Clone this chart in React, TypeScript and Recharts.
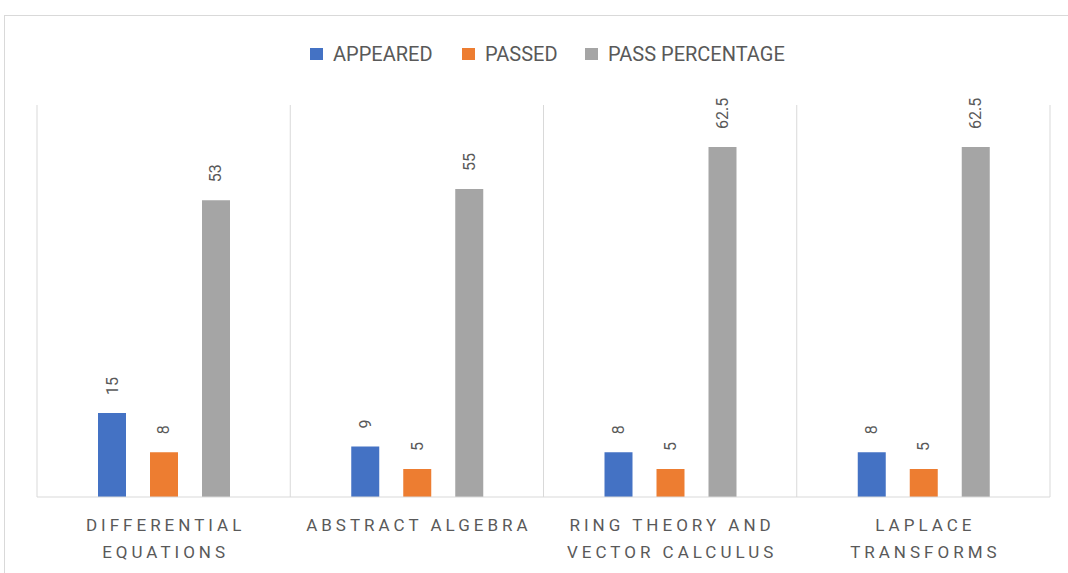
import { BarChart, Bar, XAxis, YAxis, CartesianGrid, LabelList } from 'recharts';

const subjects = [
  ['DIFFERENTIAL', 'EQUATIONS'],
  ['ABSTRACT ALGEBRA'],
  ['RING THEORY AND', 'VECTOR CALCULUS'],
  ['LAPLACE', 'TRANSFORMS'],
];
const appeared = [15, 9, 8, 8];
const passed = [8, 5, 5, 5];
const passPercentage = [53, 55, 62.5, 62.5];

const series = [
  { key: 'appeared', name: 'APPEARED', color: '#4472C4' },
  { key: 'passed', name: 'PASSED', color: '#ED7D31' },
  { key: 'pct', name: 'PASS PERCENTAGE', color: '#A5A5A5' },
];

const data = subjects.map((lines, i) => ({
  subject: lines.join(' '),
  appeared: appeared[i],
  passed: passed[i],
  pct: passPercentage[i],
}));

const TEXT = '#595959';
const FONT = 'Roboto, "Open Sans", sans-serif';

// legend item x positions (square left edge)
const legendLeft = [310, 462, 585];

const SubjectTick = (props: any) => {
  const { x, y, payload, index } = props;
  const lines = subjects[index] || [payload.value];
  return (
    <g>
      {lines.map((line, i) => (
        <text
          key={i}
          x={x + 2}
          y={y + 20 + i * 27}
          textAnchor="middle"
          dominantBaseline="central"
          fill={TEXT}
          fontSize={17}
          fontFamily={FONT}
          style={{ letterSpacing: 4 }}
        >
          {line}
        </text>
      ))}
    </g>
  );
};

const RotatedLabel = (props: any) => {
  const { x, y, width, value } = props;
  const cx = x + width / 2;
  const ty = y - 18;
  return (
    <text
      x={cx}
      y={ty}
      transform={`rotate(-90, ${cx}, ${ty})`}
      textAnchor="start"
      dominantBaseline="central"
      fill={TEXT}
      fontSize={16}
      fontFamily={FONT}
    >
      {value}
    </text>
  );
};

export default function App() {
  return (
    <div
      style={{
        position: 'absolute',
        left: 0,
        top: 0,
        width: 1068,
        height: 573,
        overflow: 'hidden',
        background: '#fff',
        fontFamily: FONT,
      }}
    >
      {/* outer chart border */}
      <div
        style={{
          position: 'absolute',
          left: 4,
          top: 15,
          width: 1100,
          height: 600,
          border: '1px solid #d9d9d9',
        }}
      />
      {/* legend */}
      {series.map((s, i) => (
        <div
          key={s.key}
          style={{ position: 'absolute', left: legendLeft[i], top: 42, display: 'flex', alignItems: 'center' }}
        >
          <span style={{ width: 13, height: 12, background: s.color, display: 'inline-block', marginRight: 10 }} />
          <span style={{ color: TEXT, fontSize: 20, lineHeight: '24px' }}>{s.name}</span>
        </div>
      ))}
      <div style={{ position: 'absolute', left: 0, top: 0 }}>
        <BarChart
          width={1068}
          height={573}
          data={data}
          margin={{ top: 105, right: 18, bottom: 6, left: 37 }}
          barSize={28}
          barGap={24}
        >
          <CartesianGrid
            horizontal={false}
            stroke="#d9d9d9"
            verticalCoordinatesGenerator={({ offset }: any) =>
              [0, 1, 2, 3, 4].map((i) => offset.left + (i * offset.width) / 4)
            }
          />
          <XAxis
            dataKey="subject"
            height={70}
            axisLine={{ stroke: '#d9d9d9' }}
            tickLine={false}
            interval={0}
            tick={<SubjectTick />}
          />
          <YAxis hide domain={[0, 70]} />
          {series.map((s) => (
            <Bar key={s.key} dataKey={s.key} fill={s.color} isAnimationActive={false}>
              <LabelList dataKey={s.key} content={<RotatedLabel />} />
            </Bar>
          ))}
        </BarChart>
      </div>
    </div>
  );
}
